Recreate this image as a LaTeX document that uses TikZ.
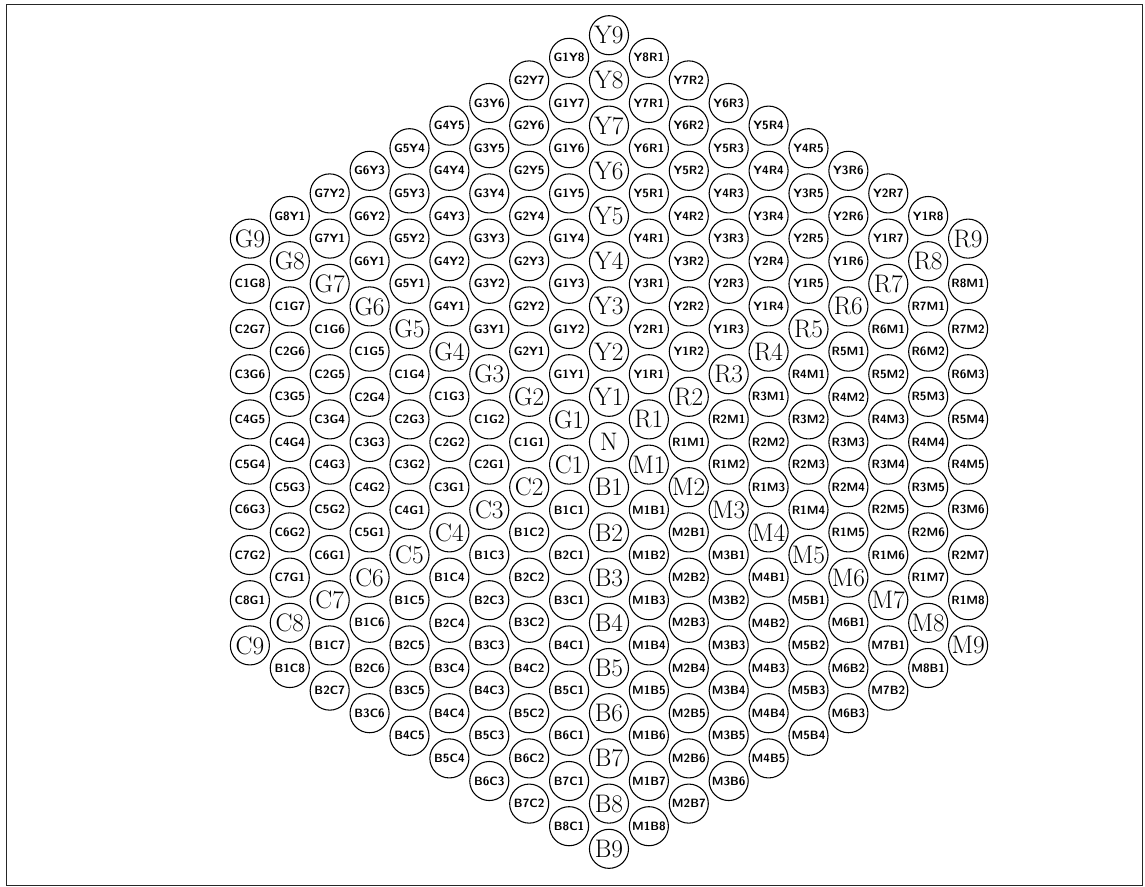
\documentclass[tikz,border=0pt]{standalone}
\usepackage{tikz}
\usetikzlibrary{positioning,calc}

\begin{document}
\begin{tikzpicture}[x=29.925pt, y=33.9pt,
  cell/.style={draw, thick, circle, minimum size=29.3pt, inner sep=0pt},
  axiscell/.style={cell, font=\fontsize{19}{19}\selectfont},
  mixcell/.style={cell, font=\fontsize{9}{9}\sffamily\bfseries}]
\useasboundingbox (-15.263,9.779) rectangle (13.434,-9.823);
% =================== frame ===================
\draw[thick, black!85] (-15.11,9.67) rectangle (13.38,-9.81);
% =================== centre ===================
\node[axiscell] (N) at (0,0) {N};
% =================== the six axes ===================
\foreach \ax/\dx/\dy in {Y/0/1, R/1/0.5, M/1/-0.5, B/0/-1, C/-1/-0.5, G/-1/0.5}{
  \foreach \i in {1,...,9}{
    \node[axiscell] (\ax\i) at (\i*\dx, \i*\dy) {\ax\i};
  }
}
% =================== the six sectors between them ===================
\foreach \pa/\pb/\ax/\ay/\bx/\by in {G/Y/-1/0.5/0/1, Y/R/0/1/1/0.5,
    R/M/1/0.5/1/-0.5, M/B/1/-0.5/0/-1, B/C/0/-1/-1/-0.5, C/G/-1/-0.5/-1/0.5}{
  \foreach \i in {1,...,8}{
    \pgfmathtruncatemacro{\jmax}{9-\i}
    \foreach \j in {1,...,\jmax}{
      \node[mixcell] (\pa\i\pb\j) at (\i*\ax+\j*\bx, \i*\ay+\j*\by) {\pa\i\pb\j};
    }
  }
}
\end{tikzpicture}
\end{document}
